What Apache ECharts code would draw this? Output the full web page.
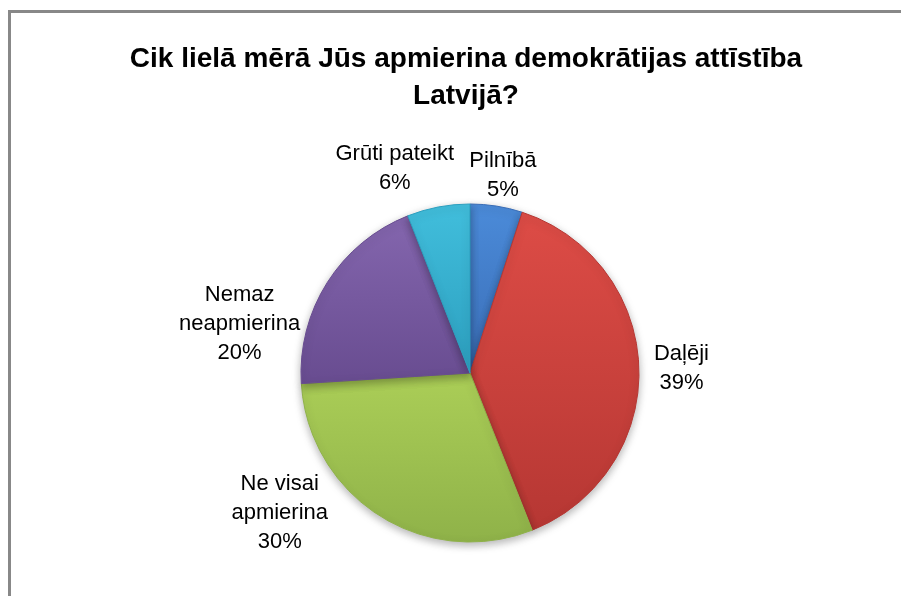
<!DOCTYPE html>
<html>
<head>
<meta charset="utf-8">
<script src="https://cdn.jsdelivr.net/npm/echarts@6/dist/echarts.min.js"></script>
<style>
  html, body { margin: 0; padding: 0; background: #fff; }
  #pie-chart { width: 901px; height: 596px; }
</style>
</head>
<body>
<div id="pie-chart"></div>
<script>
const pieChart = echarts.init(document.querySelector('#pie-chart'));

// answers, clockwise from 12 o'clock
const categories = ['Pilnībā', 'Daļēji', 'Ne visai\napmierina', 'Nemaz\nneapmierina', 'Grūti pateikt'];
const shares = [5, 39, 30, 20, 6];

// top / bottom of the slice gradient
const topColors = ['#4b8bd9', '#dd4c46', '#abce57', '#8466ae', '#41bedc'];
const bottomColors = ['#3a6db6', '#b63733', '#8fb249', '#684c90', '#2c9fbf'];

// small shifts of each label from where echarts puts it
const labelNudge = [[-34, -19], [-2, 1], [-40, -13], [-12, 48], [23, -27]];

const gradient = (i) => new echarts.graphic.LinearGradient(0, 0, 0, 1, [
    { offset: 0, color: topColors[i] },
    { offset: 1, color: bottomColors[i] }
]);

const pieData = categories.map((name, i) => {
    return {
        name: name,
        value: shares[i],
        itemStyle: {
            color: gradient(i),
            borderColor: bottomColors[i]
        }
    }
});

pieChart.setOption({
    animation: false,
    title: {
        text: 'Cik lielā mērā Jūs apmierina demokrātijas attīstība\nLatvijā?',
        left: 461,
        top: 36,
        textAlign: 'center',
        textStyle: {
            fontFamily: 'Liberation Sans',
            fontSize: 28,
            fontWeight: 'bold',
            lineHeight: 37,
            color: '#000'
        }
    },
    graphic: [
        {
            type: 'rect',
            shape: { x: 9.5, y: 11.5, width: 1000, height: 700 },
            style: { fill: 'none', stroke: '#888', lineWidth: 3 },
            silent: true
        }
    ],
    series: [
        {
            type: 'pie',
            center: [470, 373],
            radius: 169,
            startAngle: 90,
            clockwise: true,
            data: pieData,
            itemStyle: {
                borderWidth: 1,
                shadowBlur: 8,
                shadowOffsetY: 3,
                shadowColor: 'rgba(0,0,0,0.3)'
            },
            label: {
                position: 'outside',
                formatter: (p) => p.name + '\n' + p.value + '%',
                fontFamily: 'Liberation Sans',
                fontSize: 22,
                lineHeight: 29,
                color: '#000'
            },
            labelLine: { show: false, length: 12, length2: 0 },
            labelLayout: function (params) {
                const r = params.labelRect;
                const n = labelNudge[params.dataIndex];
                return {
                    x: r.x + r.width / 2 + n[0],
                    y: r.y + r.height / 2 + n[1],
                    align: 'center',
                    verticalAlign: 'middle'
                };
            },
            emphasis: { disabled: true }
        }
    ]
});
</script>
</body>
</html>
